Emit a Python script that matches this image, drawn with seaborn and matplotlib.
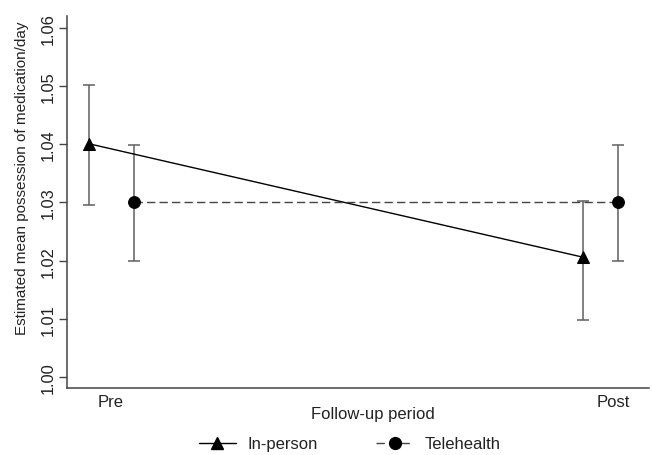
import matplotlib
matplotlib.use("Agg")
import matplotlib.pyplot as plt
import seaborn as sns
import pandas as pd
import numpy as np
from matplotlib.lines import Line2D

# ---- data ----
periods = ["Pre", "Post"]
groups = ["In-person", "Telehealth"]
inperson_mean = [1.0401, 1.0206]
inperson_lo = [1.0296, 1.0098]
inperson_hi = [1.0502, 1.0303]
tele_mean = [1.0300, 1.0300]
tele_lo = [1.0200, 1.0200]
tele_hi = [1.0398, 1.0399]
yticks = [1.00, 1.01, 1.02, 1.03, 1.04, 1.05, 1.06]

# ---- layout (dodge offsets, not data) ----
period_pos = [1, 2]
dodge = {"In-person": [-0.044, -0.060], "Telehealth": [0.046, 0.009]}

sns.set_theme(style="white")
plt.rcParams["font.family"] = ["Liberation Sans", "DejaVu Sans"]

rows = []
for g, m, lo, hi in [("In-person", inperson_mean, inperson_lo, inperson_hi),
                     ("Telehealth", tele_mean, tele_lo, tele_hi)]:
    for i, p in enumerate(periods):
        rows.append(dict(group=g, period=p, x=period_pos[i] + dodge[g][i],
                         y=m[i], lo=lo[i], hi=hi[i]))
df = pd.DataFrame(rows)

fig = plt.figure(figsize=(6.52, 4.56), dpi=100)
ax = fig.add_axes([66.7 / 652, 1 - 389 / 456, (649 - 66.7) / 652, (389 - 17) / 456])

# error bars
for g in groups:
    d = df[df.group == g]
    ax.errorbar(d.x, d.y, yerr=[d.y - d.lo, d.hi - d.y], fmt="none",
                ecolor="#5f5f5f", elinewidth=1.1, capsize=4, capthick=1.1, zorder=2)

sns.lineplot(data=df, x="x", y="y", hue="group", style="group",
             palette={"In-person": "black", "Telehealth": "#444444"},
             markers={"In-person": "^", "Telehealth": "o"},
             dashes={"In-person": "", "Telehealth": (6, 3)},
             markersize=8.5, markeredgecolor="black", linewidth=1.0,
             sort=False, estimator=None, ax=ax, legend=False, zorder=3)
for line in ax.lines:
    line.set_markerfacecolor("black")

ax.set_xlim(0.9118, 2.0717)
ax.set_ylim(0.99811, 1.06206)
ax.set_yticks(yticks)
ax.set_yticklabels([f"{t:.2f}" for t in yticks], rotation=90, va="center")
ax.set_xticks(period_pos)
ax.set_xticklabels(periods)
ax.tick_params(axis="y", length=6, width=1, color="#444444", labelsize=11.8, pad=2,
               left=True, labelcolor="#222222")
ax.tick_params(axis="x", length=0, labelsize=12, pad=4, labelcolor="#222222")
ax.set_xlabel("")
ax.set_ylabel("Estimated mean possession of medication/day", fontsize=11,
              color="#222222", va="center")
ax.yaxis.set_label_coords(-0.0768, 0.567)

for s in ["top", "right"]:
    ax.spines[s].set_visible(False)
for s in ["left", "bottom"]:
    ax.spines[s].set_color("#444444")
    ax.spines[s].set_linewidth(1.1)

fig.text(373 / 652, 1 - 414 / 456, "Follow-up period", ha="center", va="center",
         fontsize=12, color="#222222")

handles = [Line2D([0], [0], color="black", lw=1.0, marker="^", ms=8.5,
                  markerfacecolor="black", markeredgecolor="black"),
           Line2D([0], [0], color="#444444", lw=1.0, ls=(0, (6, 3)), marker="o", ms=8.5,
                  markerfacecolor="black", markeredgecolor="black")]
fig.legend(handles, groups, loc="center", bbox_to_anchor=(350 / 652, 1 - 445 / 456),
           ncol=2, frameon=False, fontsize=12, handlelength=2.2, columnspacing=3.5,
           handletextpad=0.72, labelcolor="#222222")

fig.savefig("out.png", dpi=100)
